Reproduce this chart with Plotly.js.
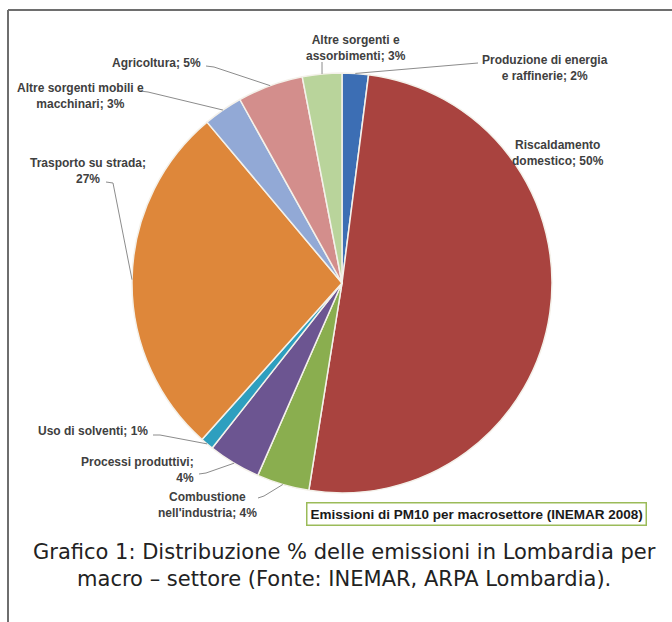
<!DOCTYPE html>
<html><head><meta charset="utf-8">
<script src="https://cdn.plot.ly/plotly-3.0.1.min.js"></script>
<style>html,body{margin:0;padding:0;background:#fff}#chart{width:672px;height:622px}</style>
</head><body><div id="chart"></div>
<script>
const categories = ['Produzione di energia e raffinerie', 'Riscaldamento domestico', "Combustione nell'industria", 'Processi produttivi', 'Uso di solventi', 'Trasporto su strada', 'Altre sorgenti mobili e macchinari', 'Agricoltura', 'Altre sorgenti e assorbimenti'];
const values = [2, 50, 4, 4, 1, 27, 3, 5, 3];
const labelTexts = ['Produzione di energia<br>e raffinerie; 2%', 'Riscaldamento<br>domestico; 50%', "Combustione<br>nell'industria; 4%", 'Processi produttivi;<br>4%', 'Uso di solventi; 1%', 'Trasporto su strada;<br>27%', 'Altre sorgenti mobili e<br>macchinari; 3%', 'Agricoltura; 5%', 'Altre sorgenti e<br>assorbimenti; 3%'];
const colors = ['#3C6EB4', '#A9433F', '#8AAE4F', '#6C5591', '#2E9FBF', '#DE873A', '#92A9D6', '#D38E8C', '#B9D49B'];
const boxTitle = 'Emissioni di PM10 per macrosettore (INEMAR 2008)';
const caption = 'Grafico 1: Distribuzione % delle emissioni in Lombardia per<br>macro – settore (Fonte: INEMAR, ARPA Lombardia).';

const W = 672, H = 622;
const cx = 342, cy = 283, R = 210;
const X = p => p / W, Y = p => 1 - p / H;

// label placement (pixels): text anchor + leader points (from label towards slice)
const place = [
  {x: 545, y: 68, xa: 'center', al: 'center', lead: [[478, 63]]},
  {x: 558, y: 153, xa: 'center', al: 'center', lead: null},
  {x: 207, y: 505, xa: 'center', al: 'center', lead: [[258, 498], [264, 496]]},
  {x: 196, y: 470, xa: 'right', al: 'right', lead: [[199, 474], [206, 473]]},
  {x: 150, y: 431, xa: 'right', al: 'right', lead: [[153, 435], [160, 435]]},
  {x: 88, y: 171, xa: 'center', al: 'center', lead: [[106, 182], [113, 183]]},
  {x: 80, y: 96, xa: 'center', al: 'center', lead: [[140, 91], [148, 92]]},
  {x: 203, y: 63, xa: 'right', al: 'right', lead: [[206, 66], [214, 67]]},
  {x: 356, y: 48, xa: 'center', al: 'center', lead: [[322, 62]]}
];

const total = values.reduce((a, b) => a + b, 0);
let cum = 0;
const annotations = [];
const shapes = [];
values.forEach((v, i) => {
  const mid = (cum + v / 2) / total * 2 * Math.PI;
  cum += v;
  const tip = [cx + R * Math.sin(mid), cy - R * Math.cos(mid)];
  const p = place[i];
  annotations.push({xref: 'paper', yref: 'paper', x: X(p.x), y: Y(p.y), xanchor: p.xa, yanchor: 'middle', align: p.al,
    text: '<b>' + labelTexts[i] + '</b>', showarrow: false,
    font: {family: 'Liberation Sans Narrow, Arial Narrow, sans-serif', size: 12, color: '#404040'}});
  if (p.lead) {
    const pts = p.lead.concat([tip]);
    const d = pts.map((q, k) => (k ? 'L' : 'M') + X(q[0]) + ',' + Y(q[1])).join(' ');
    shapes.push({type: 'path', xref: 'paper', yref: 'paper', path: d, line: {color: '#8C8C8C', width: 1}});
  }
});

// frame
shapes.push({type: 'line', xref: 'paper', yref: 'paper', x0: X(8), y0: Y(10), x1: X(8), y1: Y(622), line: {color: '#6E6E6E', width: 2}});
shapes.push({type: 'line', xref: 'paper', yref: 'paper', x0: X(8), y0: Y(10), x1: X(672), y1: Y(10), line: {color: '#6E6E6E', width: 2}});

annotations.push({xref: 'paper', yref: 'paper', x: X(476), y: Y(514), xanchor: 'center', yanchor: 'middle',
  text: '<b>' + boxTitle + '</b>', showarrow: false, bordercolor: '#9BBB59', borderwidth: 1.5, borderpad: 3, bgcolor: '#fff',
  font: {family: 'Liberation Sans Narrow, Arial Narrow, sans-serif', size: 13.5, color: '#1A1A1A'}});
annotations.push({xref: 'paper', yref: 'paper', x: X(344), y: Y(565), xanchor: 'center', yanchor: 'middle',
  text: caption, showarrow: false, align: 'center',
  font: {family: 'DejaVu Sans, sans-serif', size: 21, color: '#222'}});

const trace = {
  type: 'pie', labels: categories, values: values, sort: false, direction: 'clockwise', rotation: 0,
  marker: {colors: colors, line: {color: '#F4F1EA', width: 1.5}},
  textinfo: 'none', hoverinfo: 'label+percent', showlegend: false,
  domain: {x: [X(cx - R), X(cx + R)], y: [Y(cy + R), Y(cy - R)]}
};

Plotly.newPlot('chart', [trace], {
  width: W, height: H, margin: {l: 0, r: 0, t: 0, b: 0},
  paper_bgcolor: '#fff', showlegend: false, annotations: annotations, shapes: shapes
}, {displayModeBar: false, staticPlot: true});
</script></body></html>
